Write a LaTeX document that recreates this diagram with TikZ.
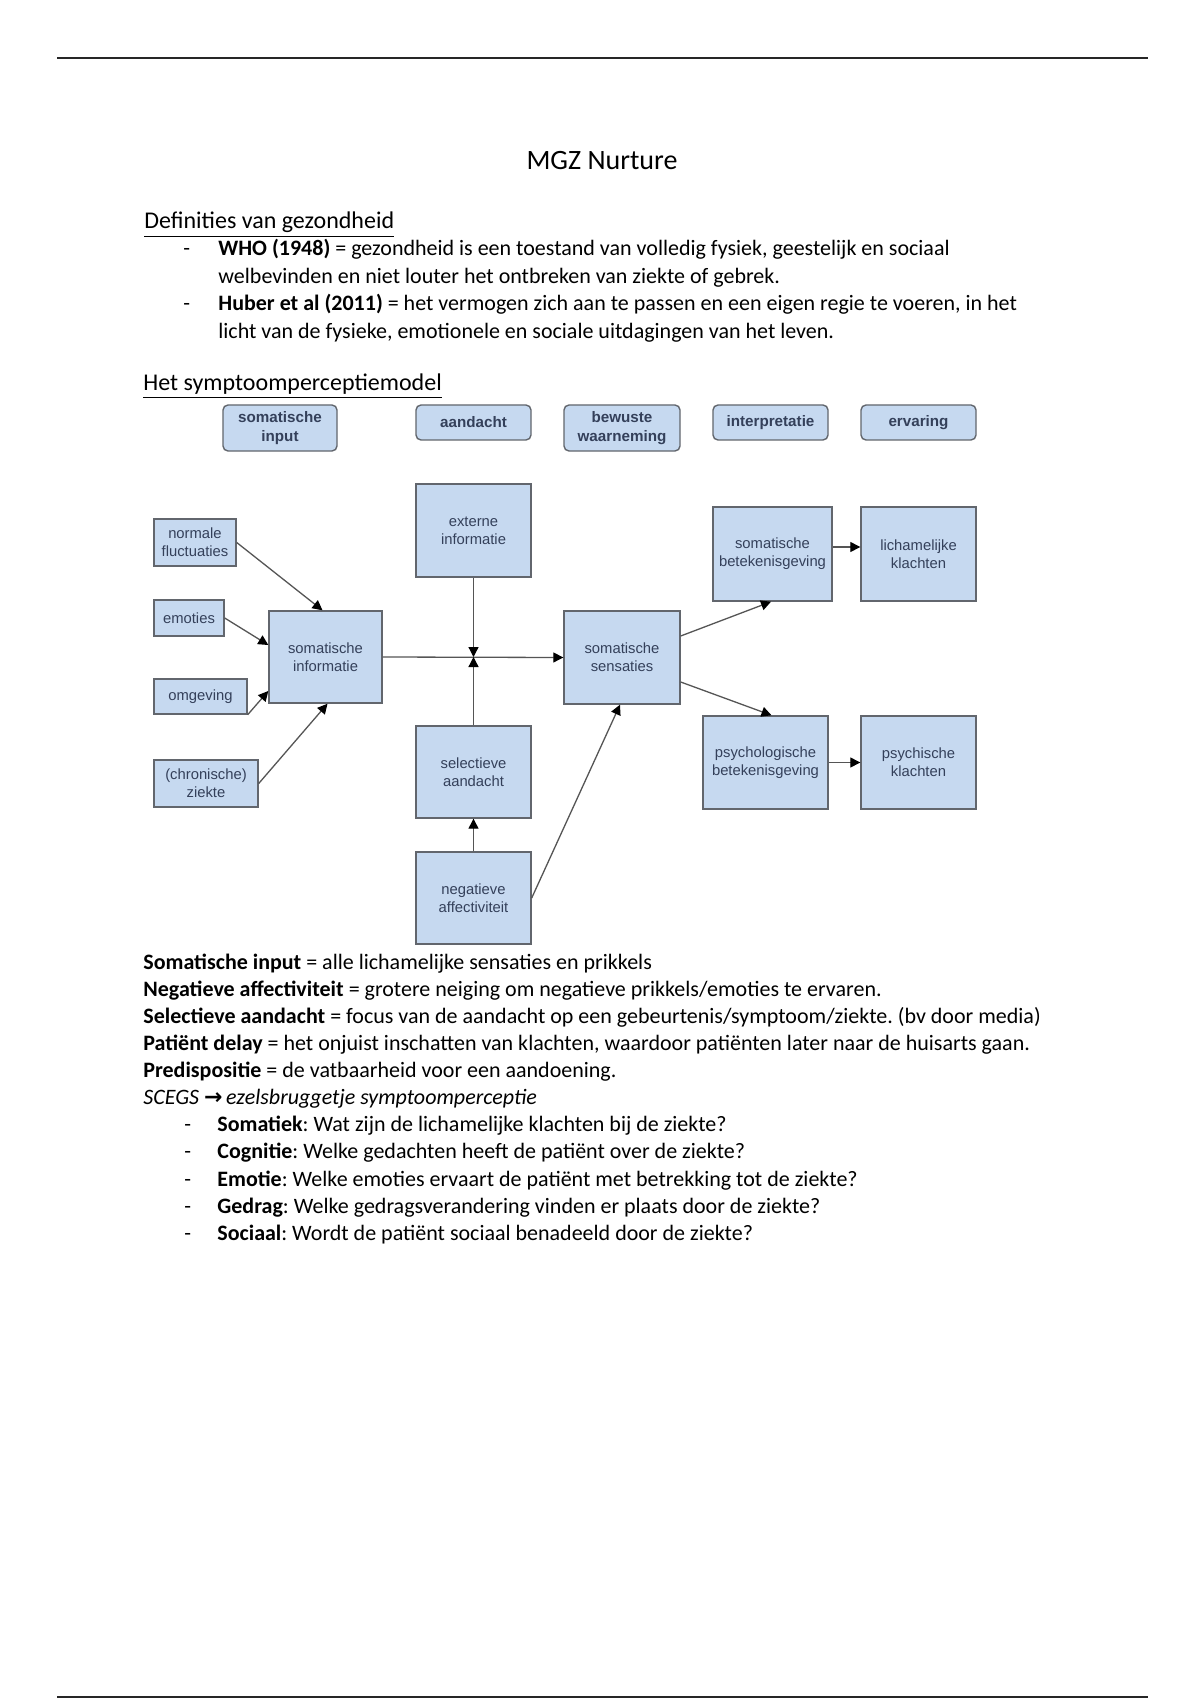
\documentclass[tikz,border=0pt]{standalone}
\usepackage{fontspec}
\setmainfont{Carlito}
\newfontfamily\arialf{Liberation Sans}
\newfontfamily\dejavu{DejaVu Sans}
\usetikzlibrary{arrows.meta,calc}
\definecolor{boxfill}{HTML}{C6D9F0}
\definecolor{boxdraw}{HTML}{62666D}
\definecolor{boxtext}{HTML}{34405A}
\definecolor{linecol}{HTML}{555555}
\frenchspacing
\begin{document}
\frenchspacing
\begin{tikzpicture}[x=0.5pt,y=-0.5pt,
  wh/.style 2 args={minimum width=#1*0.5pt,minimum height=#2*0.5pt},
  dbox/.style={draw=boxdraw,line width=0.7pt,fill=boxfill,inner sep=0pt,align=center,text=boxtext,font=\arialf\fontsize{7.4}{9}\selectfont},
  hbox/.style={dbox,rounded corners=2.5pt,font=\arialf\bfseries\fontsize{7.6}{9.5}\selectfont},
  conn/.style={draw=linecol,line width=0.65pt,-{Triangle[length=5pt,width=5pt,color=black]}},
  txt/.style={anchor=base west,inner sep=0pt,font=\fontsize{11}{13}\selectfont},
  head/.style={anchor=base west,inner sep=0pt,font=\fontsize{12}{14}\selectfont},
  bul/.style={anchor=base west,inner sep=0pt,font=\fontsize{11}{13}\selectfont},
  rule/.style={line width=1.1pt,draw=black!85}
]
\useasboundingbox[fill=white] (0,0) rectangle (1200,1700);

% page rules
\coordinate (r1a) at (57,58);
\coordinate (r1b) at (1148,58);
\draw[rule] (r1a) -- (r1b);
\coordinate (r2a) at (57,1697);
\coordinate (r2b) at (1148,1697);
\draw[rule] (r2a) -- (r2b);

% title and first section
\node[anchor=base,inner sep=0pt,font=\fontsize{14}{16}\selectfont] (title) at (602,170) {MGZ Nurture};
\node[head] (def) at (144,229) {\underline{Definities van gezondheid}};
\node[bul] (d1b) at (183,256) {-};
\node[txt] (d1) at (218,256) {{\bfseries WHO (1948)} = gezondheid is een toestand van volledig fysiek, geestelijk en sociaal};
\node[txt] (d2) at (218,284) {welbevinden en niet louter het ontbreken van ziekte of gebrek.};
\node[bul] (d3b) at (183,311) {-};
\node[txt] (d3) at (218,311) {{\bfseries Huber et al (2011)} = het vermogen zich aan te passen en een eigen regie te voeren, in het};
\node[txt] (d4) at (218,339) {licht van de fysieke, emotionele en sociale uitdagingen van het leven.};
\node[head] (sym) at (143,391) {\underline{Het symptoomperceptiemodel}};

% header boxes
\node[hbox,wh={114}{46}] (h1) at (280,428) {somatische\\input};
\node[hbox,wh={115}{35}] (h2) at (473.5,422.5) {aandacht};
\node[hbox,wh={116}{46}] (h3) at (622,428) {bewuste\\waarneming};
\node[hbox,wh={115}{35}] (h4) at (770.5,422.5) {interpretatie};
\node[hbox,wh={115}{35}] (h5) at (918.5,422.5) {ervaring};

% diagram boxes
\node[dbox,wh={82}{47}] (nf) at (195,542.5) {normale\\fluctuaties};
\node[dbox,wh={70}{36}] (em) at (189,618) {emoties};
\node[dbox,wh={93}{35}] (om) at (200.5,696.5) {omgeving};
\node[dbox,wh={104}{47}] (cz) at (206,783.5) {(chronische)\\ziekte};
\node[dbox,wh={113}{92}] (si) at (325.5,657) {somatische\\informatie};
\node[dbox,wh={115}{93}] (ext) at (473.5,530.5) {externe\\informatie};
\node[dbox,wh={115}{92}] (sel) at (473.5,772) {selectieve\\aandacht};
\node[dbox,wh={115}{92}] (neg) at (473.5,898) {negatieve\\affectiviteit};
\node[dbox,wh={116}{93}] (ss) at (622,657.5) {somatische\\sensaties};
\node[dbox,wh={119}{94}] (sb) at (772.5,554) {somatische\\betekenisgeving};
\node[dbox,wh={115}{94}] (lk) at (918.5,554) {lichamelijke\\klachten};
\node[dbox,wh={125}{93}] (pb) at (765.5,762.5) {psychologische\\betekenisgeving};
\node[dbox,wh={115}{93}] (pk) at (918.5,762.5) {psychische\\klachten};

% connectors
\draw[conn] (nf.east) -- ([xshift=-1.5pt]si.north);
\draw[conn] (em.east) -- ([yshift=6pt]si.west);
\draw[conn] (om.south east) -- ([yshift=-17pt]si.west);
\draw[conn] (cz.east) -- ([xshift=1pt]si.south);
\draw[conn] (si.east) -- (ss.west);
\draw[conn] (ext.south) -- (ext.south |- si.east);
\draw[conn] (sel.north) -- (sel.north |- si.east);
\draw[conn] (neg.north) -- (sel.south);
\draw[conn] (neg.east) -- ([xshift=-1pt]ss.south);
\draw[conn] ([yshift=10.75pt]ss.east) -- ([xshift=-0.75pt]sb.south);
\draw[conn] ([yshift=-12.25pt]ss.east) -- ([xshift=3pt]pb.north);
\draw[conn] ([yshift=3.5pt]sb.east) -- ([yshift=3.5pt]lk.west);
\draw[conn] (pb.east) -- (pk.west);

% body text
\node[txt] (l1) at (143,969) {{\bfseries Somatische input} = alle lichamelijke sensaties en prikkels};
\node[txt] (l2) at (143,996) {{\bfseries Negatieve affectiviteit} = grotere neiging om negatieve prikkels/emoties te ervaren.};
\node[txt] (l3) at (143,1023) {{\bfseries Selectieve aandacht} = focus van de aandacht op een gebeurtenis/symptoom/ziekte. (bv door media)};
\node[txt] (l4) at (143,1050) {{\bfseries Patiënt delay} = het onjuist inschatten van klachten, waardoor patiënten later naar de huisarts gaan.};
\node[txt] (l5) at (143,1077) {{\bfseries Predispositie} = de vatbaarheid voor een aandoening.};
\node[txt] (l6) at (143,1104.5) {\textit{SCEGS} {\dejavu\bfseries\fontsize{11}{12}\selectfont →}\,\textit{ezelsbruggetje symptoomperceptie}};
\node[bul] (b7) at (184,1131.5) {-};
\node[txt] (l7) at (217,1131.5) {{\bfseries Somatiek}: Wat zijn de lichamelijke klachten bij de ziekte?};
\node[bul] (b8) at (184,1158.7) {-};
\node[txt] (l8) at (217,1158.7) {{\bfseries Cognitie}: Welke gedachten heeft de patiënt over de ziekte?};
\node[bul] (b9) at (184,1186) {-};
\node[txt] (l9) at (217,1186) {{\bfseries Emotie}: Welke emoties ervaart de patiënt met betrekking tot de ziekte?};
\node[bul] (b10) at (184,1213) {-};
\node[txt] (l10) at (217,1213) {{\bfseries Gedrag}: Welke gedragsverandering vinden er plaats door de ziekte?};
\node[bul] (b11) at (184,1240) {-};
\node[txt] (l11) at (217,1240) {{\bfseries Sociaal}: Wordt de patiënt sociaal benadeeld door de ziekte?};
\end{tikzpicture}
\end{document}
